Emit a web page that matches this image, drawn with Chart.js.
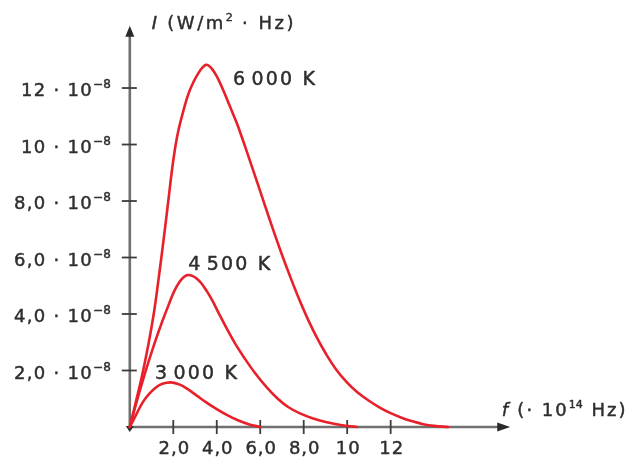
<!DOCTYPE html>
<html><head><meta charset="utf-8">
<script src="https://cdn.jsdelivr.net/npm/chart.js@4/dist/chart.umd.min.js"></script>
<style>html,body{margin:0;padding:0;background:#fff}#wrap{width:629px;height:457px}canvas{display:block}</style>
</head><body><div id="wrap"><canvas id="c" width="629" height="457"></canvas></div>
<script>
// ---- data ----
const seriesNames = ["6\u200a000 K", "4\u200a500 K", "3\u200a000 K"];
const f6000 = [0, 0.3, 0.6, 0.85, 1.1, 1.3, 1.55, 1.77, 1.95, 2.1, 2.25, 2.45, 2.7, 2.95, 3.2, 3.35, 3.5, 3.65, 3.8, 3.95, 4.1, 4.3, 4.6, 4.92, 5.2, 5.45, 5.8, 6.2, 6.6, 7.0, 7.4, 7.83, 8.2, 8.6, 9.0, 9.5, 10.0, 10.44, 11.0, 11.5, 12.0, 12.5, 13.0, 13.5, 14.0, 14.65];
const i6000 = [0, 0.95, 1.95, 2.9, 4.0, 5.1, 6.6, 8.0, 9.15, 9.95, 10.55, 11.15, 11.8, 12.25, 12.58, 12.73, 12.82, 12.78, 12.66, 12.48, 12.26, 11.92, 11.36, 10.76, 10.16, 9.6, 8.8, 7.88, 6.97, 6.1, 5.28, 4.45, 3.8, 3.17, 2.62, 2.03, 1.57, 1.25, 0.93, 0.69, 0.49, 0.33, 0.2, 0.1, 0.04, 0];
const f4500 = [0, 0.3, 0.6, 0.9, 1.2, 1.5, 1.8, 2.05, 2.3, 2.5, 2.69, 2.9, 3.1, 3.3, 3.55, 3.8, 4.07, 4.45, 4.84, 5.3, 5.76, 6.3, 6.83, 7.3, 7.83, 8.4, 9.06, 9.7, 10.44];
const i4500 = [0, 0.85, 1.65, 2.4, 3.1, 3.75, 4.35, 4.82, 5.15, 5.32, 5.38, 5.34, 5.24, 5.08, 4.8, 4.47, 4.06, 3.5, 2.96, 2.41, 1.91, 1.4, 0.98, 0.7, 0.48, 0.31, 0.17, 0.07, 0];
const f3000 = [0, 0.3, 0.6, 0.9, 1.2, 1.5, 1.9, 2.3, 2.7, 3.1, 3.5, 4.0, 4.5, 5.0, 5.5, 6.0];
const i3000 = [0, 0.45, 0.88, 1.18, 1.4, 1.53, 1.58, 1.5, 1.32, 1.1, 0.88, 0.63, 0.41, 0.23, 0.09, 0];
const xTickValues = [2, 4, 6, 8, 10, 12];
const xTickLabels = ["2,0", "4,0", "6,0", "8,0", "10", "12"];
const yTickValues = [2, 4, 6, 8, 10, 12];
const yTickLabels = ["2,0", "4,0", "6,0", "8,0", "10", "12"];
const yTickExponent = "\u22128";
const yTitle = ["I", " (W/m", "2", " \u00b7 Hz)"];
const xTitle = ["f", " (\u00b7 10", "14", " Hz)"];

// ---- helpers ----
const FONT = "DejaVu Sans";
const TEXT = "#2e2e2e";
const RED = "#e8202a";
function pts(xs, ys) { return xs.map((x, k) => ({ x: x, y: ys[k] })); }
function setLS(ctx, v) { if ('letterSpacing' in ctx) ctx.letterSpacing = v || '0px'; }
function richWidth(ctx, parts) {
  let w = 0;
  for (const p of parts) { ctx.font = p.font; setLS(ctx, p.ls); w += ctx.measureText(p.t).width + (p.gap || 0); }
  return w;
}
function drawRich(ctx, parts, x, baseY, align) {
  const w = richWidth(ctx, parts);
  let cx = align === 'right' ? x - w : align === 'center' ? x - w / 2 : x;
  ctx.textAlign = 'left'; ctx.textBaseline = 'alphabetic';
  ctx.strokeStyle = ctx.fillStyle; ctx.lineWidth = 0.45; ctx.lineJoin = 'round';
  for (const p of parts) {
    ctx.font = p.font; setLS(ctx, p.ls);
    ctx.fillText(p.t, cx, baseY + (p.dy || 0));
    ctx.strokeText(p.t, cx, baseY + (p.dy || 0));
    cx += ctx.measureText(p.t).width + (p.gap || 0);
  }
  setLS(ctx, '0px');
}

const axesPlugin = {
  id: 'physAxes',
  beforeDatasetsDraw(chart) {
    const ctx = chart.ctx, xs = chart.scales.x, ys = chart.scales.y;
    const x0 = xs.getPixelForValue(0), y0 = ys.getPixelForValue(0);
    const xEnd = xs.getPixelForValue(17.5), yEnd = ys.getPixelForValue(14.2);
    ctx.save();
    ctx.strokeStyle = '#707070'; ctx.lineWidth = 2.6; ctx.lineCap = 'butt';
    ctx.beginPath(); ctx.moveTo(x0, y0 + 2); ctx.lineTo(x0, yEnd + 8); ctx.stroke();
    ctx.beginPath(); ctx.moveTo(x0 - 1, y0); ctx.lineTo(xEnd - 10, y0); ctx.stroke();
    ctx.fillStyle = '#2a2a2a';
    ctx.beginPath(); ctx.moveTo(x0, yEnd); ctx.lineTo(x0 - 4.5, yEnd + 11); ctx.lineTo(x0 + 4.5, yEnd + 11); ctx.closePath(); ctx.fill();
    ctx.beginPath(); ctx.moveTo(xEnd, y0); ctx.lineTo(xEnd - 13, y0 - 4.5); ctx.lineTo(xEnd - 13, y0 + 4.5); ctx.closePath(); ctx.fill();
    ctx.beginPath(); ctx.moveTo(x0 - 4, y0 - 1); ctx.lineTo(x0 + 4, y0 - 1); ctx.lineTo(x0, y0 + 5); ctx.closePath(); ctx.fill();
    ctx.strokeStyle = '#3c3c3c'; ctx.lineWidth = 1.8;
    for (const v of yTickValues) {
      const y = ys.getPixelForValue(v);
      ctx.beginPath(); ctx.moveTo(x0 - 8, y); ctx.lineTo(x0 + 7, y); ctx.stroke();
    }
    for (const v of xTickValues) {
      const x = xs.getPixelForValue(v);
      ctx.beginPath(); ctx.moveTo(x, y0 - 7); ctx.lineTo(x, y0 + 7); ctx.stroke();
    }
    ctx.restore();
  },
  afterDatasetsDraw(chart, args, opts) {
    const ctx = chart.ctx, xs = chart.scales.x, ys = chart.scales.y;
    const x0 = xs.getPixelForValue(0), y0 = ys.getPixelForValue(0);
    ctx.save();
    ctx.fillStyle = TEXT;
    const base = '18px ' + FONT, sup = '12px ' + FONT;
    yTickValues.forEach((v, k) => {
      const y = ys.getPixelForValue(v);
      drawRich(ctx, [
        { t: yTickLabels[k] + ' \u00b7 10', font: base, ls: '1.3px' },
        { t: yTickExponent, font: sup, dy: -8 }
      ], x0 - 19, y + 8, 'right');
    });
    xTickValues.forEach((v, k) => {
      const x = xs.getPixelForValue(v);
      drawRich(ctx, [{ t: xTickLabels[k], font: base, ls: '1px' }], x + 1, y0 + 27, 'center');
    });
    drawRich(ctx, [
      { t: yTitle[0], font: 'italic 18px ' + FONT, ls: '2px' },
      { t: yTitle[1], font: base, ls: '2.5px' },
      { t: yTitle[2], font: '11px ' + FONT, dy: -8, gap: 1 },
      { t: yTitle[3], font: base, ls: '2.5px' }
    ], x0 + 22, 29, 'left');
    drawRich(ctx, [
      { t: xTitle[0], font: 'italic 18px ' + FONT, ls: '1.5px' },
      { t: xTitle[1], font: base, ls: '2px' },
      { t: xTitle[2], font: '11px ' + FONT, dy: -8, gap: 1 },
      { t: xTitle[3], font: base, ls: '2px' }
    ], x0 + 372, y0 - 11, 'left');
    opts.labels.forEach((L, k) => {
      drawRich(ctx, [{ t: seriesNames[k], font: '19px ' + FONT, ls: '2.2px' }],
        xs.getPixelForValue(L.x), ys.getPixelForValue(L.y) + 7, 'left');
    });
    ctx.restore();
  }
};

const ds = (name, xs, ys) => ({
  label: name, data: pts(xs, ys), borderColor: RED, borderWidth: 2.6,
  pointRadius: 0, fill: false, tension: 0.4, borderJoinStyle: 'round', borderCapStyle: 'round'
});

new Chart(document.getElementById('c'), {
  type: 'line',
  data: { datasets: [ds(seriesNames[0], f6000, i6000), ds(seriesNames[1], f4500, i4500), ds(seriesNames[2], f3000, i3000)] },
  options: {
    responsive: false, animation: false, devicePixelRatio: 1,
    layout: { padding: { left: 129.8, right: 107.9, top: 17.4, bottom: 30 } },
    scales: {
      x: { type: 'linear', min: 0, max: 18, display: false },
      y: { type: 'linear', min: 0, max: 14.5, display: false }
    },
    plugins: {
      legend: { display: false }, tooltip: { enabled: false },
      physAxes: { labels: [{ x: 4.75, y: 12.37 }, { x: 2.69, y: 5.82 }, { x: 1.16, y: 1.96 }] }
    },
    clip: false
  },
  plugins: [axesPlugin]
});
</script>
</body></html>
